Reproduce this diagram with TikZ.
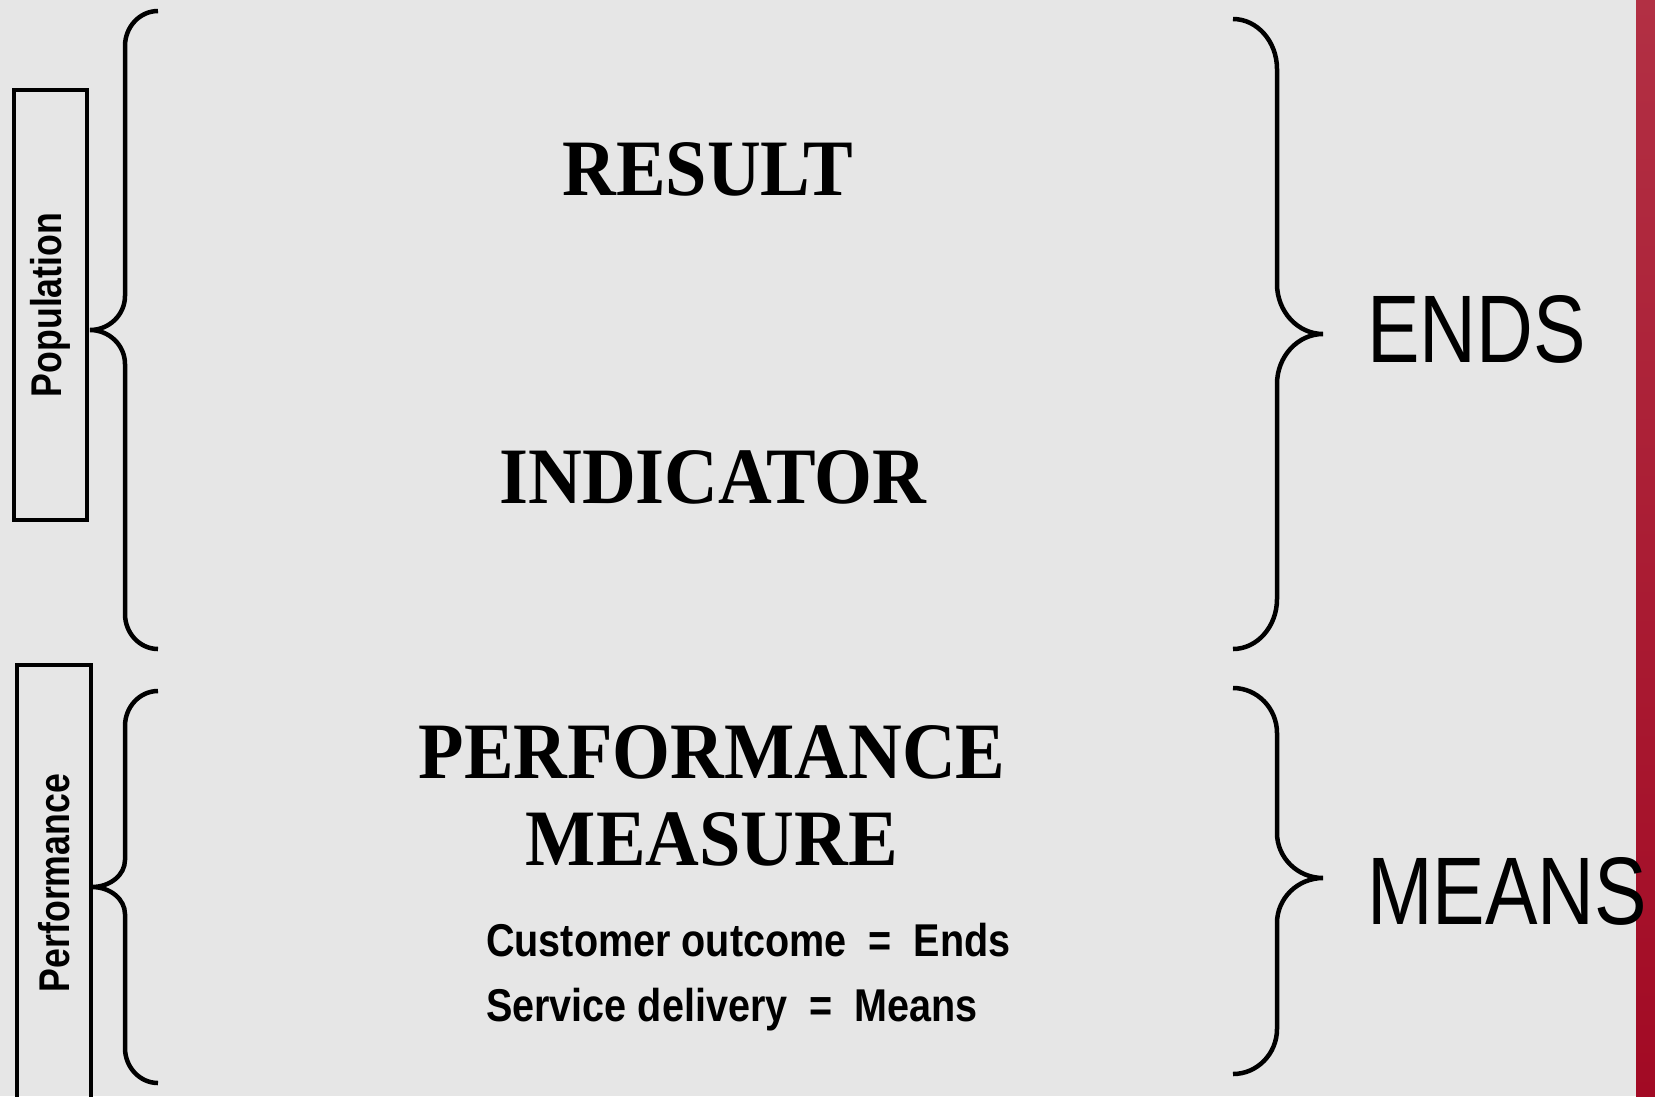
\documentclass[tikz,border=0pt]{standalone}
\usepackage{fontspec}
\setmainfont{Liberation Serif}
\newfontfamily\condserif[FakeStretch=0.93]{Liberation Serif}
\newfontfamily\narrowsans[FakeStretch=0.83]{Liberation Sans}
\newfontfamily\notesans[FakeStretch=0.86]{Liberation Sans}
\newfontfamily\slimsans[FakeStretch=0.82]{Liberation Sans}
\usepackage{xcolor}
\usepackage{tikz}
\definecolor{slidebg}{RGB}{230,230,230}
\definecolor{bartop}{RGB}{178,48,68}
\definecolor{barmid}{RGB}{194,74,98}
\definecolor{barbot}{RGB}{162,10,36}
% curly bracket: end x, spine x, tip x, top y, tip y, bottom y, end bend, tip bend
\newcommand{\curly}[8]{%
  \draw[curlyline] (#1,#4) .. controls ({#1+0.55*(#2-#1)},#4) and (#2,{#4+0.45*#7}) .. (#2,#4+#7)
    -- (#2,#5-#8) .. controls (#2,{#5-0.45*#8}) and ({#2+0.45*(#3-#2)},#5) .. (#3,#5)
    .. controls ({#2+0.45*(#3-#2)},#5) and (#2,{#5+0.45*#8}) .. (#2,#5+#8)
    -- (#2,#6-#7) .. controls (#2,{#6-0.45*#7}) and ({#1+0.55*(#2-#1)},#6) .. (#1,#6);}

\begin{document}
\begin{tikzpicture}[x=1pt,y=-1pt,
    curlyline/.style={line width=4.5pt},
    tagbox/.style={line width=4.5pt},
    heading/.style={inner sep=0pt,anchor=base,font={\condserif\bfseries\fontsize{80}{88}\selectfont}},
    tagtext/.style={inner sep=0pt,rotate=90,font={\narrowsans\bfseries\fontsize{43}{48}\selectfont}},
    sideword/.style={inner sep=0pt,anchor=base west,font={\slimsans\fontsize{96}{100}\selectfont}},
    note/.style={inner sep=0pt,anchor=base west,font={\notesans\bfseries\fontsize{46}{50}\selectfont}}]
    \def\W{1655}\def\H{1096}\def\barX{1636}
    \useasboundingbox (0,0) rectangle (\W,\H);
    \clip (0,0) rectangle (\W,\H);
    % Background
    \fill[slidebg] (0,0) rectangle (\W,\H);
    % Red strip on the right
    \shade[top color=bartop,middle color=barmid,bottom color=barbot] (\barX,0) rectangle (\W,\H);
    % Side boxes
    \draw[tagbox] (14,90) rectangle (87,520);
    \draw[tagbox] (17,665) rectangle (91,1110);
    \node[tagtext] (population) at (50.5,305) {Population};
    \node[tagtext] (performance) at (54,883) {Performance};
    % Left brackets
    \curly{158}{125}{90}{11}{330}{649}{35}{34}
    \curly{158}{125}{92}{691}{887}{1083}{35}{27}
    % Right brackets
    \curly{1233}{1277}{1323}{19}{334}{649}{50}{50}
    \curly{1233}{1277}{1323}{688}{878}{1074}{45}{45}
    % Headings
    \node[heading] (result) at (708,195) {RESULT};
    \node[heading] (indicator) at (713,503) {INDICATOR};
    \node[heading] (perf) at (712,778) {PERFORMANCE};
    \node[heading] (measure) at (712,865) {MEASURE};
    % Notes
    \node[note] (outcome) at (486,956) {Customer outcome\ \ =\ \ Ends};
    \node[note] (delivery) at (486,1021) {Service delivery\ \ =\ \ Means};
    % Ends / Means
    \node[sideword] (ends) at (1367,362) {ENDS};
    \node[sideword] (means) at (1367,924) {MEANS};
\end{tikzpicture}
\end{document}
